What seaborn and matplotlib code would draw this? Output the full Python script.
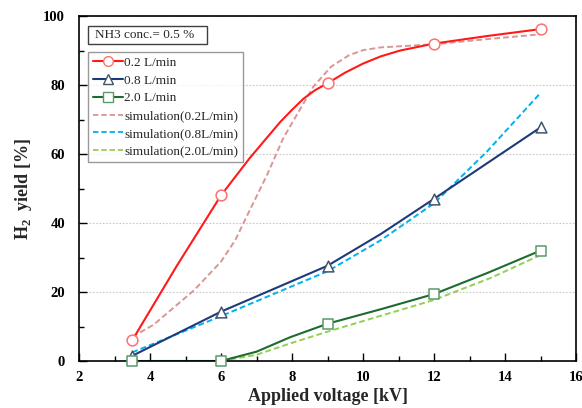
import numpy as np
import pandas as pd
import matplotlib
matplotlib.use("Agg")
import matplotlib.pyplot as plt
from matplotlib.lines import Line2D
from matplotlib.patches import Rectangle
from matplotlib.ticker import MultipleLocator
import seaborn as sns

# ---- measured points (markers) ----
volt = [3.5, 6, 9, 12, 15]
y_02 = [6, 48, 80.5, 92, 96.2]
y_08 = [1.5, 14.3, 27.6, 47, 67.7]
y_20 = [0, 0, 10.8, 19.4, 32]

cx_02 = [3.5, 4.75, 6, 6.8, 7.3, 7.67, 8.0, 8.32, 8.65, 9, 9.5, 10, 10.5, 11.05, 12, 13.5, 15]
cy_02 = [6, 27.5, 48, 58.7, 64.8, 69.3, 72.8, 76.0, 78.5, 80.5, 83.6, 86.2, 88.3, 90, 92, 94.2, 96.2]
cx_08 = [3.5, 6, 9, 10.5, 12, 15]
cy_08 = [1.5, 14.3, 27.6, 36.8, 47, 67.7]
cx_20 = [3.5, 6, 7, 7.95, 9, 10.5, 12, 13.5, 15]
cy_20 = [0, 0, 2.7, 6.9, 10.8, 15, 19.4, 25.5, 32]

# ---- simulation curves ----
sx_02 = [3.5, 4.1, 4.5, 5.25, 6, 6.4, 6.8, 7.3, 7.75, 8.2, 8.6, 9.1, 9.6, 10, 10.5, 11, 12, 13.5, 15]
sy_02 = [7, 10.5, 14, 20.6, 28.8, 35, 43.5, 54, 64.5, 72.5, 79.5, 85.3, 88.6, 90.1, 90.9, 91.2, 91.8, 93.3, 94.7]
sx_08 = [3.5, 6, 9, 10.5, 12, 13.5, 15]
sy_08 = [2.5, 13, 26, 35.0, 45.7, 60.8, 77.7]
sx_20 = [3.5, 6, 7, 7.95, 9, 12, 13.58, 15]
sy_20 = [0, 0, 1.8, 5.1, 8.5, 17.7, 24, 30.7]

labels = ["0.2 L/min", "0.8 L/min", "2.0 L/min",
          "simulation(0.2L/min)", "simulation(0.8L/min)", "simulation(2.0L/min)"]
note = "NH3 conc.= 0.5 %"

sns.set_theme(style="white")
plt.rcParams["font.family"] = ["Liberation Serif", "DejaVu Serif"]
plt.rcParams["mathtext.fontset"] = "custom"
plt.rcParams["mathtext.rm"] = "Liberation Serif"
plt.rcParams["mathtext.bf"] = "Liberation Serif:bold"

fig = plt.figure(figsize=(5.82, 4.08), dpi=100)
ax = fig.add_axes([79/582, 1-361/408, (576-79)/582, (361-16)/408])

c_red, c_blue, c_green = "#FF1A1A", "#1F3A7A", "#1E6B30"
m_red, m_blue, m_green = "#FF7070", "#44546A", "#5A9A6A"
s_red, s_blue, s_green = "#D99694", "#00B0F0", "#92D050"
dash = (0, (3, 1.6))

# simulation curves (dashed)
for sx, sy, col in [(sx_02, sy_02, s_red), (sx_08, sy_08, s_blue), (sx_20, sy_20, s_green)]:
    sns.lineplot(x=sx, y=sy, ax=ax, color=col, linestyle=dash, lw=1.4, sort=False,
                 estimator=None)

# experimental curves
for cx, cy, col in [(cx_02, cy_02, c_red), (cx_08, cy_08, c_blue), (cx_20, cy_20, c_green)]:
    sns.lineplot(x=cx, y=cy, ax=ax, color=col, lw=1.5, sort=False, estimator=None)

# markers
for yy, mk, ec in [(y_02, "o", m_red), (y_08, "^", m_blue), (y_20, "s", m_green)]:
    sns.scatterplot(x=volt, y=yy, ax=ax, marker=mk, s=60, facecolor="white",
                    edgecolor=ec, linewidth=1.1, zorder=5, clip_on=False)

ax.set_xlim(2, 16)
ax.set_ylim(0, 100)
ax.xaxis.set_major_locator(MultipleLocator(2))
ax.xaxis.set_minor_locator(MultipleLocator(1))
ax.yaxis.set_major_locator(MultipleLocator(20))
ax.yaxis.set_minor_locator(MultipleLocator(10))
ax.tick_params(which="both", direction="in", top=False, right=False, left=True, bottom=True,
               colors="black")
ax.tick_params(which="major", length=6, width=1, labelsize=10.5)
ax.tick_params(axis="y", which="major", pad=10)
ax.tick_params(axis="x", which="major", pad=7)
ax.tick_params(which="minor", length=3.5, width=1)
for lab in ax.get_xticklabels() + ax.get_yticklabels():
    lab.set_fontweight("bold")
for sp in ax.spines.values():
    sp.set_color("black")
    sp.set_linewidth(1.2)
ax.yaxis.grid(True, which="major", color="#C8C8C8", linestyle=(0, (1.5, 1.5)), lw=0.8)
ax.set_axisbelow(True)

ax.set_xlabel("Applied voltage [kV]", fontsize=13, fontweight="bold", labelpad=3)
ax.set_ylabel(r"H$_\mathbf{2}$  yield [%]", fontsize=13, fontweight="bold", labelpad=7)

handles = [
    Line2D([], [], color=c_red, lw=1.5, marker="o", mfc="white", mec=m_red, ms=7),
    Line2D([], [], color=c_blue, lw=1.5, marker="^", mfc="white", mec=m_blue, ms=7),
    Line2D([], [], color=c_green, lw=1.5, marker="s", mfc="white", mec=m_green, ms=7),
    Line2D([], [], color=s_red, lw=1.3, linestyle=dash),
    Line2D([], [], color=s_blue, lw=1.3, linestyle=dash),
    Line2D([], [], color=s_green, lw=1.3, linestyle=dash),
]
leg = ax.legend(handles, labels, loc="upper left", bbox_to_anchor=(9/497, 1-36/345),
                fontsize=9.5, frameon=True, fancybox=False, edgecolor="#808080",
                handlelength=2.3, handletextpad=0.1, labelspacing=0.42, borderpad=0.35,
                borderaxespad=0)
leg.get_frame().set_linewidth(1.0)

# note box
ax.add_patch(Rectangle((9/497, 1-28/345), 119/497, 18/345, transform=ax.transAxes,
                       fc="white", ec="#404040", lw=1.0, zorder=6, clip_on=False))
ax.text(16/497, 1-19/345, note, transform=ax.transAxes, fontsize=9.5,
        va="center", ha="left", zorder=7)

fig.savefig("out.png", dpi=100)
